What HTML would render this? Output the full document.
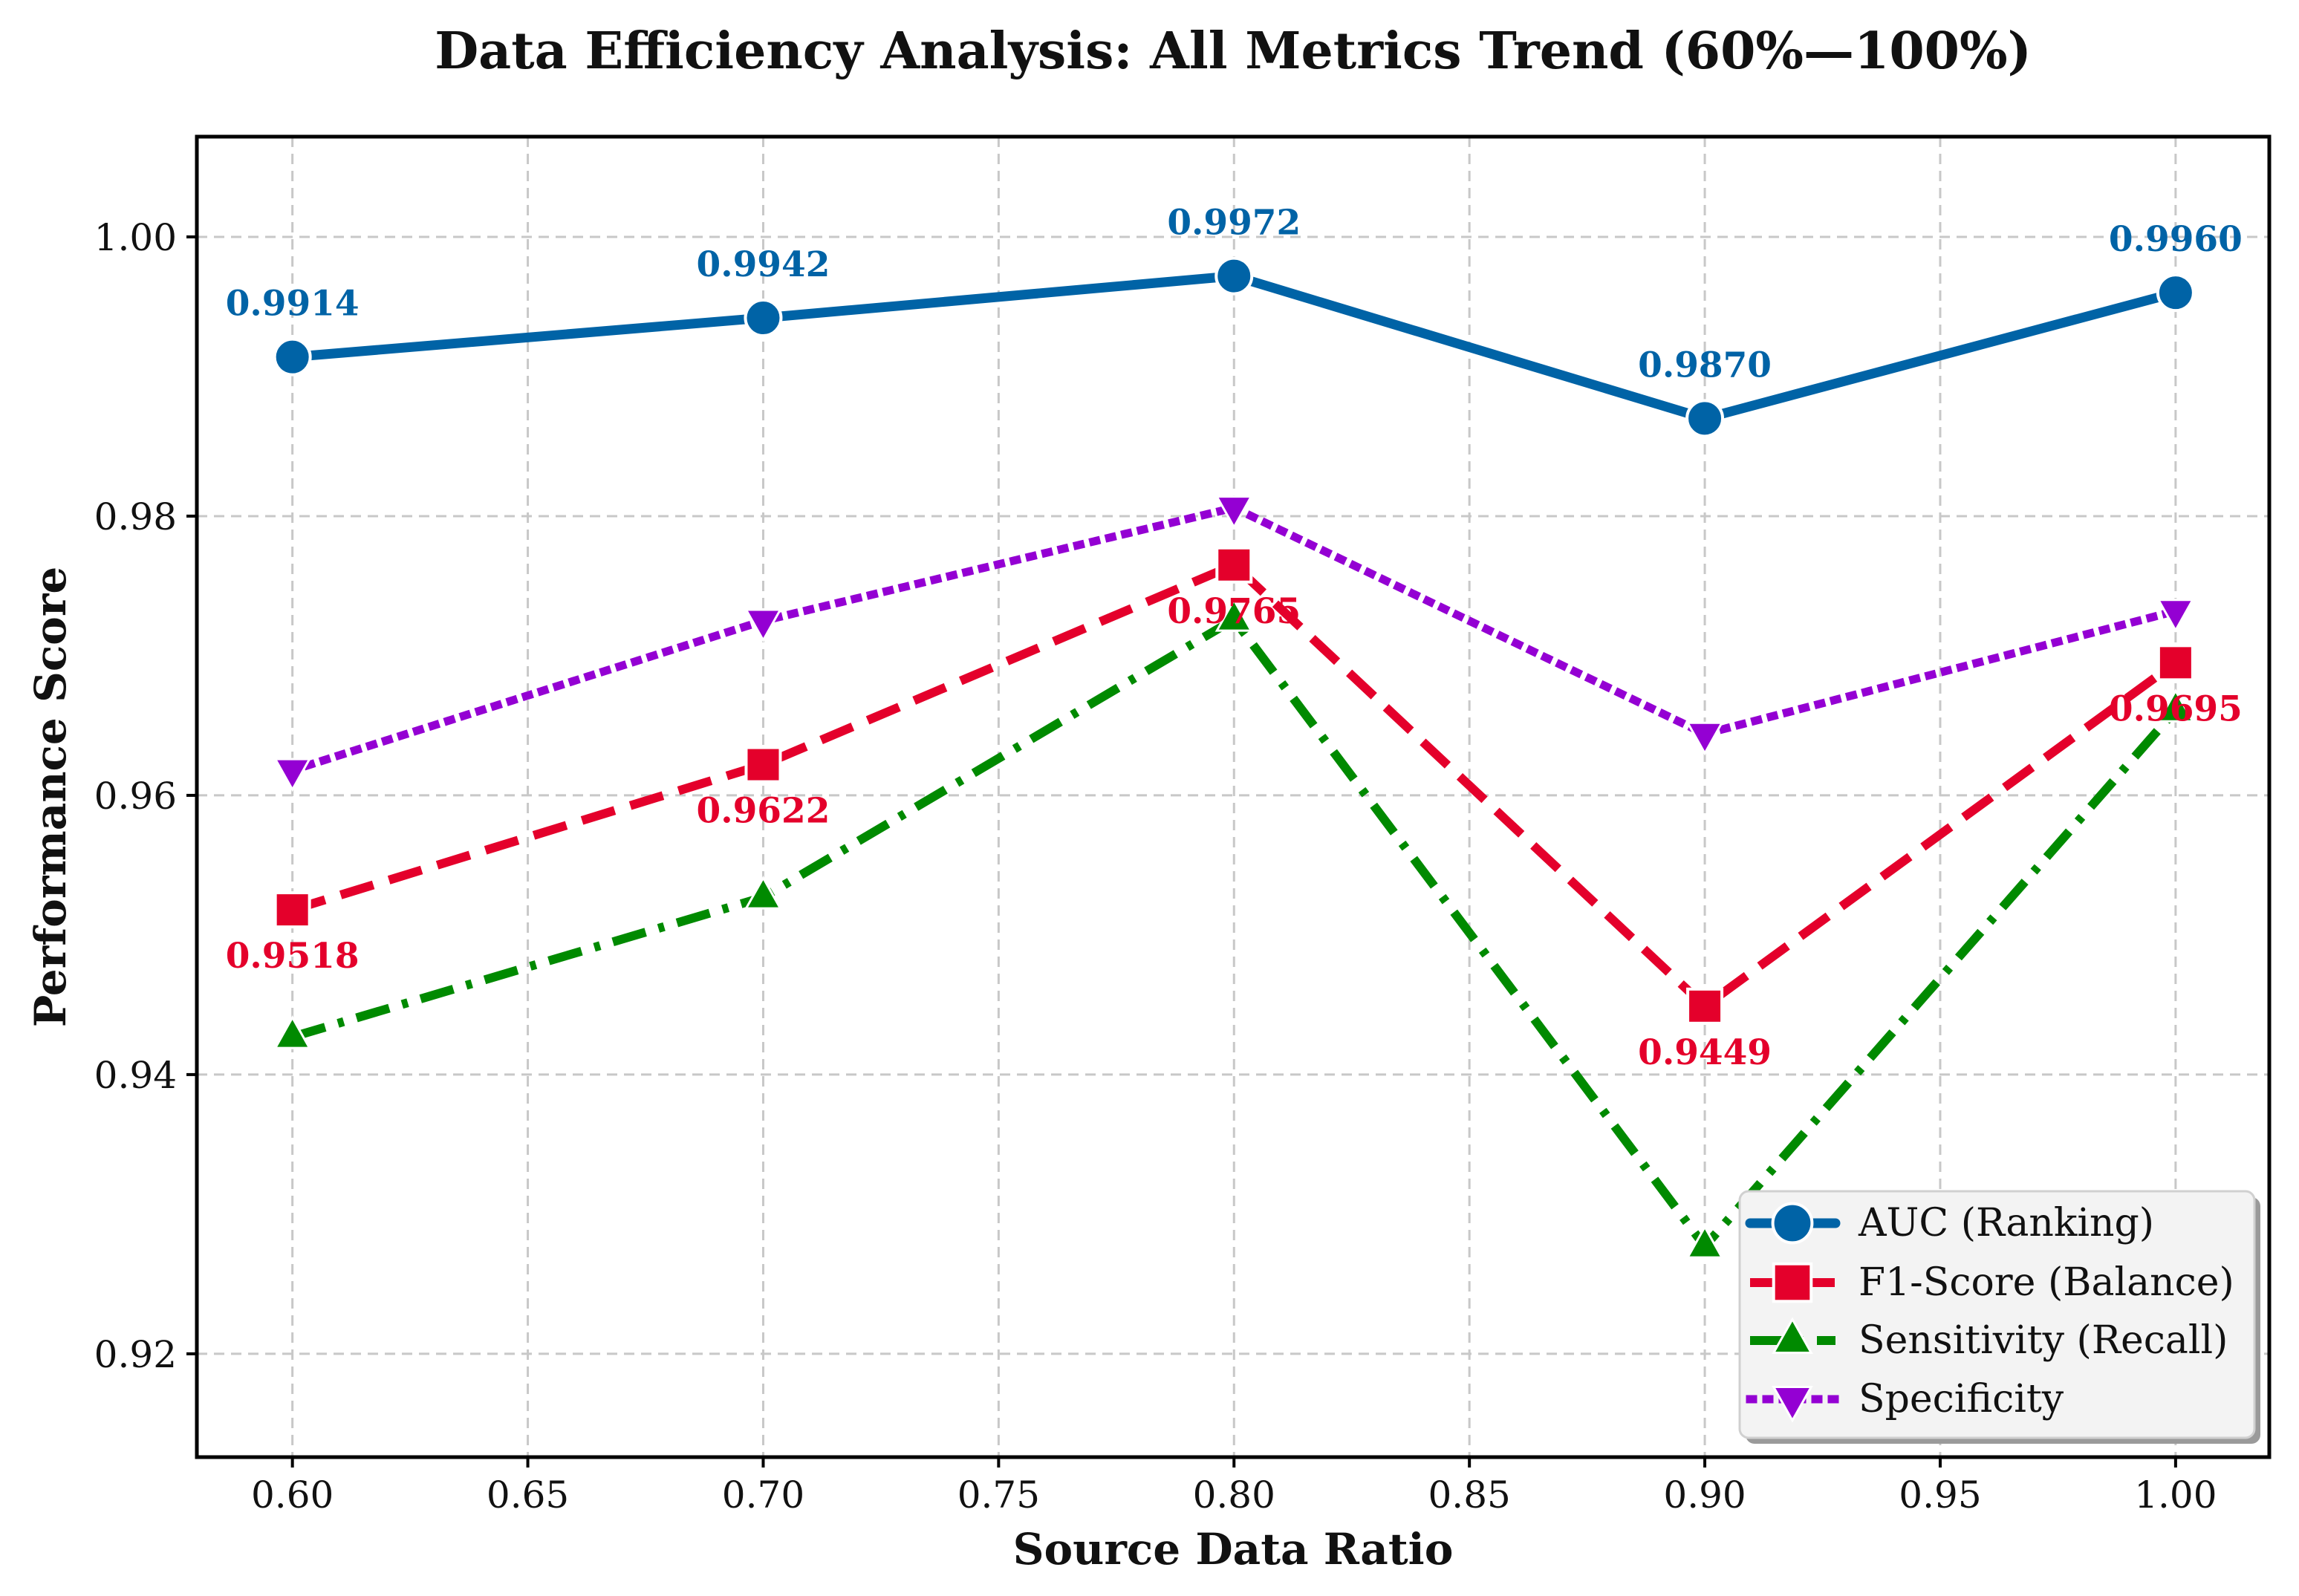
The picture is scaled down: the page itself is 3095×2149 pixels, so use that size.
<!DOCTYPE html>
<html><head><meta charset="utf-8"><style>
html,body{margin:0;padding:0;background:#fff;}
svg{display:block;font-family:"DejaVu Serif","Liberation Serif",serif;}
</style></head><body>
<svg id="chart" xmlns="http://www.w3.org/2000/svg" width="3095" height="2149" viewBox="0 0 3095 2149">
<rect x="0" y="0" width="3095" height="2149" fill="#fff"/>
<text x="1660" y="92" text-anchor="middle" font-size="68" font-weight="bold" fill="#111">Data Efficiency Analysis: All Metrics Trend (60%—100%)</text>
<g id="grid"></g><g id="series"></g><g id="axes"></g><g id="legend"></g>
</svg>
<script>
const xValues = [0.60, 0.70, 0.80, 0.90, 1.00];
const aucValues = [0.9914, 0.9942, 0.9972, 0.9870, 0.9960];
const f1Values = [0.9518, 0.9622, 0.9765, 0.9449, 0.9695];
const sensValues = [0.9427, 0.9527, 0.9726, 0.9277, 0.9661];
const specValues = [0.9618, 0.9725, 0.9806, 0.9644, 0.9732];
const xTicks = [0.60, 0.65, 0.70, 0.75, 0.80, 0.85, 0.90, 0.95, 1.00];
const yTicks = [0.92, 0.94, 0.96, 0.98, 1.00];

const L=265,R=3055,T=184,B=1962;
const X0=0.5797,X1=1.0199,Y0=0.9126,Y1=1.00718;
const sx=v=>L+(v-X0)/(X1-X0)*(R-L);
const sy=v=>B-(v-Y0)/(Y1-Y0)*(B-T);
const NS="http://www.w3.org/2000/svg";
function mk(tag,attrs,parent,txt){const e=document.createElementNS(NS,tag);for(const k in attrs)e.setAttribute(k,attrs[k]);if(txt!==undefined)e.textContent=txt;parent.appendChild(e);return e;}
const grid=document.getElementById('grid'),ser=document.getElementById('series'),axes=document.getElementById('axes'),leg=document.getElementById('legend');

xTicks.forEach(t=>{
  const g=mk('line',{x1:sx(t),x2:sx(t),y1:T,y2:B,stroke:'#c8c8c8','stroke-width':3,'stroke-dasharray':'14 9'},grid);
  
  
  mk('line',{x1:sx(t),x2:sx(t),y1:B,y2:B+14,stroke:'#000','stroke-width':4},axes);
  const tl=mk('text',{x:sx(t),y:B+68,'text-anchor':'middle','font-size':50,fill:'#111'},axes,t.toFixed(2));
  
  
});
yTicks.forEach(t=>{
  const g=mk('line',{x1:L,x2:R,y1:sy(t),y2:sy(t),stroke:'#c8c8c8','stroke-width':3,'stroke-dasharray':'14 9'},grid);
  
  
  mk('line',{x1:L-14,x2:L,y1:sy(t),y2:sy(t),stroke:'#000','stroke-width':4},axes);
  const tl=mk('text',{x:L-27,y:sy(t)+18,'text-anchor':'end','font-size':50,fill:'#111'},axes,t.toFixed(2));
  
  
});
const frame=mk('rect',{x:L,y:T,width:R-L,height:B-T,fill:'none',stroke:'#000','stroke-width':5},axes);


const xl=mk('text',{x:(L+R)/2,y:2106,'text-anchor':'middle','font-size':58,'font-weight':'bold',fill:'#111'},axes,'Source Data Ratio');


const yl=mk('text',{x:0,y:0,'text-anchor':'middle','font-size':58,'font-weight':'bold',fill:'#111',transform:'translate(88,1073) rotate(-90)'},axes,'Performance Score');



function marker(type,cx,cy,color,parent,s){
  let e;
  if(type==='circle') e=mk('circle',{cx:cx,cy:cy,r:24*s,fill:color,stroke:'#fff','stroke-width':4},parent);
  else if(type==='square') e=mk('rect',{x:cx-23*s,y:cy-23*s,width:46*s,height:46*s,fill:color,stroke:'#fff','stroke-width':4},parent);
  else if(type==='up') e=mk('polygon',{points:`${cx},${cy-26*s} ${cx+23*s},${cy+15*s} ${cx-23*s},${cy+15*s}`,fill:color,stroke:'#fff','stroke-width':3},parent);
  else e=mk('polygon',{points:`${cx},${cy+26*s} ${cx+23*s},${cy-15*s} ${cx-23*s},${cy-15*s}`,fill:color,stroke:'#fff','stroke-width':3},parent);
  return e;
}
const seriesDefs=[
 {name:'specificity',vals:specValues,color:'#9400d3',dash:'4 18',cap:'square',mk:'down',w:11},
 {name:'sensitivity',vals:sensValues,color:'#008a00',dash:'46 18 8 18',cap:'butt',mk:'up',w:12},
 {name:'f1-score',vals:f1Values,color:'#e4002b',dash:'46 22',cap:'butt',mk:'square',w:12},
 {name:'auc',vals:aucValues,color:'#0063a6',dash:'none',cap:'round',mk:'circle',w:13}
];
seriesDefs.forEach(s=>{
  const g=mk('g',{},ser);
  
  
  const pts=xValues.map((x,i)=>sx(x)+','+sy(s.vals[i])).join(' ');
  const pl=mk('polyline',{points:pts,fill:'none',stroke:s.color,'stroke-width':s.w,'stroke-dasharray':s.dash,'stroke-linecap':s.cap,'stroke-linejoin':'round'},g);
  
  
  xValues.forEach((x,i)=>{
    const m=marker(s.mk,sx(x),sy(s.vals[i]),s.color,g,1);
    
    
  });
});
xValues.forEach((x,i)=>{
  const a=mk('text',{x:sx(x),y:sy(aucValues[i])-56,'text-anchor':'middle','font-size':47,'font-weight':'bold',fill:'#0063a6'},ser,aucValues[i].toFixed(4));
  
  
  const f=mk('text',{x:sx(x),y:sy(f1Values[i])+78,'text-anchor':'middle','font-size':47,'font-weight':'bold',fill:'#e4002b'},ser,f1Values[i].toFixed(4));
  
  
});
const shadow=mk('rect',{x:2350,y:1612,width:693,height:332,rx:12,fill:'#9a9a9a'},leg);


const box=mk('rect',{x:2342,y:1604,width:693,height:332,rx:12,fill:'#f3f3f3',stroke:'#d0d0d0','stroke-width':3},leg);


const legLabels=['AUC (Ranking)','F1-Score (Balance)','Sensitivity (Recall)','Specificity'];
const legOrder=[3,2,1,0];
const legY=[1647,1727,1805,1884];
legOrder.forEach((si,k)=>{
  const s=seriesDefs[si];
  const g=mk('g',{},leg);
  
  
  mk('line',{x1:2356,x2:2471,y1:legY[k],y2:legY[k],stroke:s.color,'stroke-width':s.w,'stroke-dasharray':s.dash==='none'?'none':s.dash,'stroke-linecap':s.cap},g);
  marker(s.mk,2413,legY[k],s.color,g,1.1);
  mk('text',{x:2502,y:legY[k]+17,'font-size':52,fill:'#111'},g,legLabels[k]);
});
</script>
</body></html>
